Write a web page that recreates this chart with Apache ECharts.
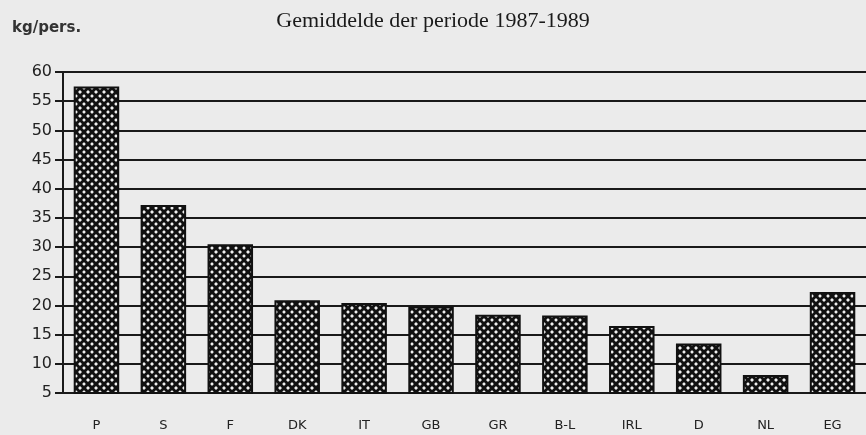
<!DOCTYPE html>
<html>
<head>
<meta charset="utf-8">
<script src="https://cdn.jsdelivr.net/npm/echarts@6/dist/echarts.min.js"></script>
<style>
  html, body { margin: 0; padding: 0; background: #ebebeb; }
  #chart { width: 866px; height: 435px; }
</style>
</head>
<body>
<div id="chart"></div>
<script>
const categories = ['P', 'S', 'F', 'DK', 'IT', 'GB', 'GR', 'B-L', 'IRL', 'D', 'NL', 'EG'];
const values = [57.5, 37.2, 30.5, 20.9, 20.4, 19.8, 18.4, 18.3, 16.5, 13.5, 8.1, 22.3];
const yMin = 5, yMax = 60, yStep = 5;

// crosshatch fill like the old printout
function hatch() {
  const c = document.createElement('canvas');
  c.width = 8; c.height = 8;
  const g = c.getContext('2d');
  g.fillStyle = '#f0f0f0';
  g.fillRect(0, 0, 8, 8);
  g.strokeStyle = '#111';
  g.lineWidth = 3;
  g.beginPath();
  g.moveTo(-1, -1); g.lineTo(9, 9);
  g.moveTo(9, -1); g.lineTo(-1, 9);
  g.stroke();
  return c;
}

const chart = echarts.init(document.getElementById('chart'));
chart.setOption({
  backgroundColor: '#ebebeb',
  animation: false,
  title: [{
    text: 'Gemiddelde der periode 1987-1989',
    left: 'center',
    top: 5,
    textStyle: { fontFamily: 'Liberation Serif', fontSize: 22, fontWeight: 'normal', color: '#1a1a1a' }
  }, {
    text: 'kg/pers.',
    left: 7,
    top: 16,
    textStyle: { fontFamily: 'DejaVu Sans', fontSize: 15, fontWeight: 'bold', color: '#333' }
  }],
  grid: { left: 63, right: 0, top: 72, bottom: 42 },
  xAxis: [{
    type: 'category',
    data: categories,
    axisLine: { lineStyle: { color: '#1a1a1a', width: 2 } },
    axisTick: { length: 8, lineStyle: { color: '#1a1a1a', width: 2 } },
    axisLabel: { margin: 26, fontFamily: 'DejaVu Sans', fontSize: 13, color: '#222' }
  }, {
    type: 'category',
    data: categories,
    position: 'bottom',
    axisLine: { show: false },
    axisTick: { inside: true, length: 8, lineStyle: { color: '#1a1a1a', width: 2 } },
    axisLabel: { show: false }
  }],
  yAxis: {
    type: 'value',
    min: yMin,
    max: yMax,
    interval: yStep,
    axisLine: { show: true, lineStyle: { color: '#1a1a1a', width: 2 } },
    axisTick: { show: true, length: 8, lineStyle: { color: '#1a1a1a', width: 2 } },
    axisLabel: { margin: 11, fontFamily: 'DejaVu Sans', fontSize: 16, color: '#222' },
    splitLine: { lineStyle: { color: '#1a1a1a', width: 2 } }
  },
  series: [{
    type: 'bar',
    data: values,
    barWidth: '68%',
    clip: true,
    itemStyle: {
      color: { image: hatch(), repeat: 'repeat' },
      borderColor: '#111',
      borderWidth: 2
    }
  }]
});
</script>
</body>
</html>
